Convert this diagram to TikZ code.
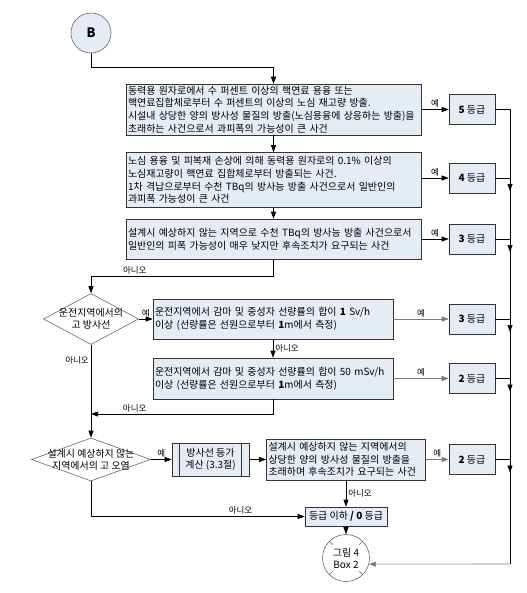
\documentclass[tikz,border=0pt]{standalone}
\usepackage{fontspec}
\setmainfont{Noto Sans CJK KR}
\usetikzlibrary{arrows.meta,shapes.geometric,calc}
\definecolor{boxfill}{HTML}{E6ECF5}
\definecolor{edgegray}{HTML}{7A7A7A}
\tikzset{
  event/.style={draw=black!80, fill=boxfill, inner sep=2pt, align=left,
    font=\fontsize{10}{12.7}\selectfont},
  grade/.style={draw=black!80, fill=boxfill, minimum width=46bp,
    minimum height=30bp, inner sep=1pt, font=\fontsize{10}{11}\selectfont},
  decision/.style={diamond, draw=black!60, fill=white, inner sep=0pt},
  yn/.style={font=\fontsize{8.5}{9}\selectfont, inner sep=2pt},
  flow/.style={-{Triangle[length=7bp,width=5bp]}},
}
\begin{document}
\begin{tikzpicture}[x=1bp,y=-1bp,line width=0.6bp]
\useasboundingbox (0,0) rectangle (527,593);

\node (start) at (91,33) [circle, draw=black!60, fill=boxfill, minimum size=40bp,
  font=\bfseries\fontsize{13}{13}\selectfont] {B};

% event boxes
\node (e1) at (273.5,109.5) [event, text width=291bp, minimum height=51bp]
  {동력용 원자로에서 수 퍼센트 이상의 핵연료 용융 또는\\
   핵연료집합체로부터 수 퍼센트의 이상의 노심 재고량 방출.\\
   시설내 상당한 양의 방사성 물질의 방출(노심용융에 상응하는 방출)을\\
   초래하는 사건으로서 과피폭의 가능성이 큰 사건};
\node (e2) at (273.5,180) [event, text width=291bp, minimum height=55bp]
  {노심 용융 및 피복재 손상에 의해 동력용 원자로의 0.1\% 이상의\\
   노심재고량이 핵연료 집합체로부터 방출되는 사건.\\
   1차 격납으로부터 수천 TBq의 방사능 방출 사건으로서 일반인의\\
   과피폭 가능성이 큰 사건};
\node (e3) at (273.5,239) [event, text width=291bp, minimum height=40bp]
  {설계시 예상하지 않는 지역으로 수천 TBq의 방사능 방출 사건으로서\\
   일반인의 피폭 가능성이 매우 낮지만 후속조치가 요구되는 사건};
\node (e4) at (273,319) [event, text width=236bp, minimum height=40bp]
  {운전지역에서 감마 및 중성자 선량률의 합이 \textbf{1} Sv/h\\
   이상 (선량률은 선원으로부터 \textbf{1}m에서 측정)};
\node (e5) at (273,378.5) [event, text width=236bp, minimum height=41bp]
  {운전지역에서 감마 및 중성자 선량률의 합이 50 mSv/h\\
   이상 (선량률은 선원으로부터 \textbf{1}m에서 측정)};
\node (e6) at (346,459.5) [event, text width=155bp, minimum height=41bp]
  {설계시 예상하지 않는 지역에서의\\
   상당한 양의 방사성 물질의 방출을\\
   초래하며 후속조치가 요구되는 사건};

% grades
\node (g5) at (472,109.5) [grade] {\textbf{5} 등급};
\node (g4) at (472,178) [grade] {\textbf{4} 등급};
\node (g3) at (472,239) [grade] {\textbf{3} 등급};
\node (g3b) at (472,319) [grade] {\textbf{3} 등급};
\node (g2) at (472,378.5) [grade] {\textbf{2} 등급};
\node (g2b) at (472,459.5) [grade] {\textbf{2} 등급};

% decisions
\node (q1) at (91,319) [decision, minimum width=95bp, minimum height=51bp] {};
\node at (q1) [align=center, font=\fontsize{10}{12.5}\selectfont] {운전지역에서의\\고 방사선};
\node (q2) at (91,459.5) [decision, minimum width=119bp, minimum height=43bp] {};
\node at (q2) [align=center, font=\fontsize{10}{12.5}\selectfont] {설계시 예상하지 않는\\지역에서의 고 오염};

\node (calc) at (210.5,459.5) [event, align=center, minimum width=77bp, minimum height=33bp]
  {방사선 등가\\계산 (3.3절)};
\draw[black!80] ([xshift=8bp]calc.north west) -- ([xshift=8bp]calc.south west);
\draw[black!80] ([xshift=-8bp]calc.north east) -- ([xshift=-8bp]calc.south east);

\node (none) at (346,516.5) [event, align=center, minimum width=82bp, minimum height=19bp,
  inner sep=1pt] {등급 이하 \textbf{/ 0} 등급};
\node (end) at (346,558) [circle, draw=black!60, fill=white, minimum size=47bp,
  align=center, font=\fontsize{10}{12}\selectfont] {그림 4\\Box 2};
\foreach \a in {45,135,225,315}
  \draw[black!60] (end.\a) -- ($(end.\a)!5bp!(end.center)$);

\coordinate (c1) at (273.5,67);
\coordinate (k3) at (273.5,276);
\coordinate (k5) at (273,414);
\coordinate (k6) at (91,516.5);
\coordinate (rail) at (510,564);

% main flow
\draw[flow] (start) |- (c1) -- (e1);
\draw[flow] (e1) -- (e2);
\draw[flow] (e2) -- (e3);
\draw[flow] (e3) -- (k3) -| (q1) node[yn, pos=0.38, above] {아니오};
\draw[flow] (q1) -- (e4) node[yn, midway, above] {예};
\draw[flow] (e4) -- (e5) node[yn, midway, right] {아니오};
\draw[flow] (e5) -- (k5) -- (k5 -| q1) node[yn, pos=0.76, above] {아니오};
\draw[flow] (q1) -- (q2) node[yn, pos=0.17, left] {아니오};
\draw[flow] (q2) -- (calc) node[yn, midway, above] {예};
\draw[flow] (calc) -- (e6);
\draw[flow] (e6) -- (none) node[yn, midway, right] {아니오};
\draw[flow] (q2) -- (k6) -- (none) node[yn, pos=0.7, above] {아니오};
\draw[flow] (none) -- (end);

% yes branches
\draw[flow] (e1) -- (g5) node[yn, midway, above] {예};
\draw[flow] (e2.east |- g4) -- (g4) node[yn, midway, above] {예};
\draw[flow] (e3) -- (g3) node[yn, midway, above] {예};
\draw[flow, edgegray] (e4) -- (g3b) node[yn, midway, above, black] {예};
\draw[flow, edgegray] (e5) -- (g2) node[yn, midway, above, black] {예};
\draw[flow, edgegray] (e6) -- (g2b) node[yn, midway, above, black] {예};

% right rail
\draw (g5) -| (rail);
\draw[flow, edgegray] (rail) -- (end.-15);
\foreach \g in {g4,g3,g3b,g2,g2b} {
  \draw (\g) -- (\g -| rail);
  \draw[flow] (\g -| rail) -- ++(0,13);
}
\end{tikzpicture}
\end{document}
